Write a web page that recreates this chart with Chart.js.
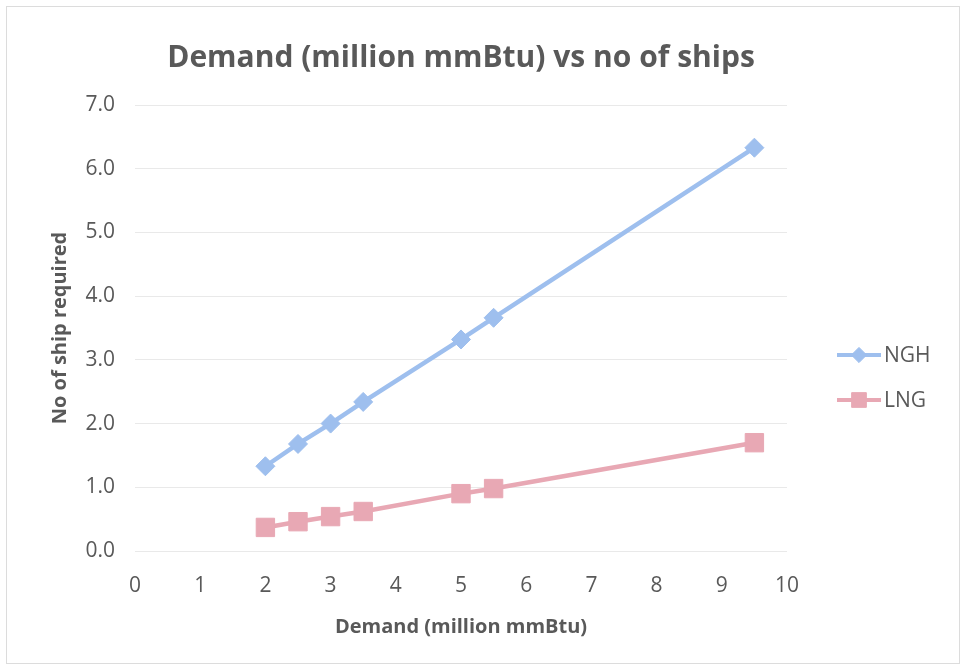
<!DOCTYPE html>
<html>
<head>
<meta charset="utf-8">
<script src="https://cdn.jsdelivr.net/npm/chart.js@4.4.1/dist/chart.umd.min.js"></script>
<style>
  body { margin: 0; background: #fff; }
  #wrap { width: 966px; height: 670px; position: relative; }
</style>
</head>
<body>
<div id="wrap"><canvas id="shipChart" width="966" height="670"></canvas></div>
<script>
// data
const demand = [2, 2.5, 3, 3.5, 5, 5.5, 9.5];
const nghShips = [1.33, 1.68, 2.0, 2.34, 3.32, 3.66, 6.33];
const lngShips = [0.37, 0.46, 0.54, 0.62, 0.9, 0.98, 1.7];
const seriesNames = ["NGH", "LNG"];
const xTicks = [0, 1, 2, 3, 4, 5, 6, 7, 8, 9, 10];
const yTicks = [0, 1, 2, 3, 4, 5, 6, 7];

const blue = "#9ebfee";
const pink = "#e8a8b4";
const textGrey = "#595959";
const font = "'Open Sans', Lato, sans-serif";

function toPoints(xs, ys) {
  return xs.map((x, i) => ({ x: x, y: ys[i] }));
}

// frame + legend on the right, like the Excel chart
const extras = {
  id: "extras",
  beforeDraw(chart) {
    const ctx = chart.ctx;
    ctx.save();
    ctx.fillStyle = "#fff";
    ctx.fillRect(0, 0, chart.width, chart.height);
    ctx.strokeStyle = "#dcdcdc";
    ctx.lineWidth = 1;
    ctx.strokeRect(6.5, 6.5, chart.width - 13, chart.height - 13);
    ctx.restore();
  },
  afterDraw(chart) {
    const ctx = chart.ctx;
    ctx.save();
    chart.data.datasets.forEach((ds, i) => {
      const y = 355 + i * 45;
      ctx.strokeStyle = ds.borderColor;
      ctx.lineWidth = 4;
      ctx.beginPath();
      ctx.moveTo(837, y);
      ctx.lineTo(881, y);
      ctx.stroke();
      ctx.fillStyle = ds.backgroundColor;
      ctx.lineWidth = 1;
      Chart.helpers.drawPoint(ctx, {
        pointStyle: ds.pointStyle,
        radius: ds.pointRadius * 0.8,
        borderWidth: 1
      }, 859, y);
      ctx.fillStyle = textGrey;
      ctx.font = "21px " + font;
      ctx.textBaseline = "middle";
      ctx.fillText(ds.label, 884, y + 1);
    });
    ctx.restore();
  }
};

new Chart(document.getElementById("shipChart"), {
  type: "scatter",
  data: {
    datasets: [
      {
        label: seriesNames[0],
        data: toPoints(demand, nghShips),
        showLine: true,
        borderColor: blue,
        backgroundColor: blue,
        borderWidth: 4.5,
        pointStyle: "rectRot",
        pointRadius: 9.5,
        pointBorderWidth: 1,
        pointHoverRadius: 9.5
      },
      {
        label: seriesNames[1],
        data: toPoints(demand, lngShips),
        showLine: true,
        borderColor: pink,
        backgroundColor: pink,
        borderWidth: 4.5,
        pointStyle: "rect",
        pointRadius: 13,
        pointBorderWidth: 1,
        pointHoverRadius: 13
      }
    ]
  },
  options: {
    responsive: false,
    animation: false,
    layout: { padding: { left: 20, right: 179, top: 40, bottom: 20 } },
    plugins: {
      legend: { display: false },
      tooltip: { enabled: false },
      title: {
        display: true,
        fullSize: false,
        text: "Demand (million mmBtu) vs no of ships",
        color: textGrey,
        font: { family: font, size: 30, weight: "bold" },
        padding: { top: 0, bottom: 29 }
      }
    },
    scales: {
      x: {
        type: "linear",
        min: xTicks[0],
        max: xTicks[xTicks.length - 1],
        afterBuildTicks: (axis) => { axis.ticks = xTicks.map(v => ({ value: v })); },
        grid: { display: false, drawTicks: false },
        border: { display: false },
        ticks: {
          color: textGrey,
          font: { family: font, size: 21 },
          padding: 22
        },
        title: {
          display: true,
          text: "Demand (million mmBtu)",
          color: textGrey,
          font: { family: font, size: 20, weight: "bold" },
          padding: { top: 0, bottom: 11 }
        },
        afterFit: (axis) => { axis.height = 99; }
      },
      y: {
        min: yTicks[0],
        max: yTicks[yTicks.length - 1],
        afterBuildTicks: (axis) => { axis.ticks = yTicks.map(v => ({ value: v })); },
        grid: { color: "#e9e9e9", lineWidth: 1, drawTicks: false },
        border: { display: false },
        ticks: {
          color: textGrey,
          font: { family: font, size: 21 },
          padding: 20,
          callback: (v) => v.toFixed(1)
        },
        title: {
          display: true,
          text: "No of ship required",
          color: textGrey,
          font: { family: font, size: 20, weight: "bold" },
          padding: { top: 28, bottom: 0 }
        },
        afterFit: (axis) => { axis.width = 115; }
      }
    }
  },
  plugins: [extras]
});
</script>
</body>
</html>
